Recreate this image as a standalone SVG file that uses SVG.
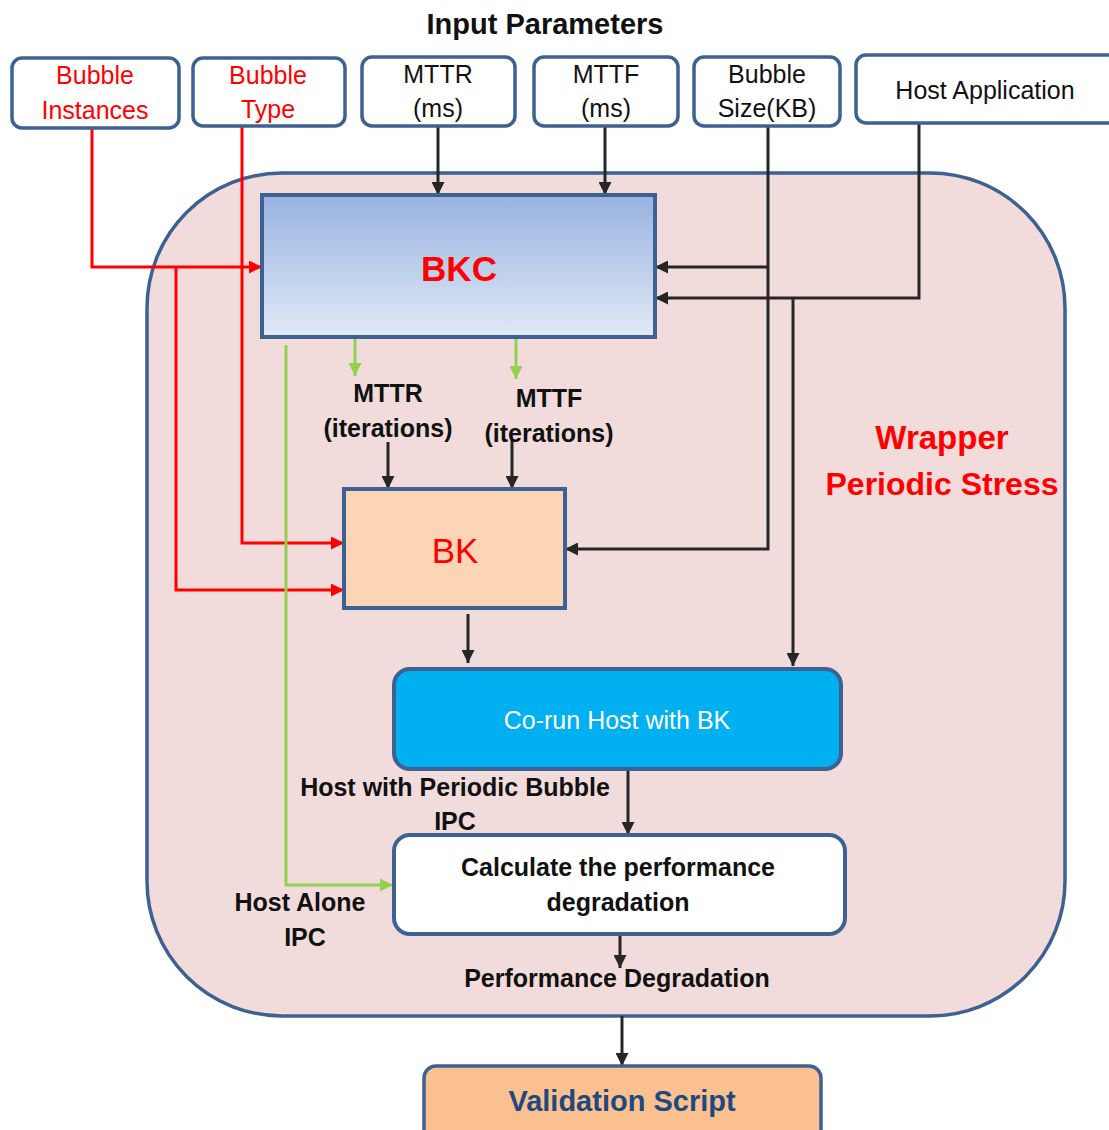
<svg xmlns="http://www.w3.org/2000/svg" width="1109" height="1130" viewBox="0 0 1109 1130">
<style>
  .box{fill:#ffffff;stroke:#3d6192;stroke-width:3.5}
  .in{font-family:"Liberation Sans",Arial,sans-serif;font-size:25px;text-anchor:middle}
  .lbl{font-family:"Liberation Sans",Arial,sans-serif;font-size:25px;font-weight:bold;text-anchor:middle;fill:#111}
  .k{stroke:#262626;stroke-width:3;fill:none}
  .r{stroke:#ff0000;stroke-width:3;fill:none}
  .g{stroke:#92d050;stroke-width:3;fill:none}
</style>
<defs>
  <linearGradient id="bkcg" x1="0" y1="0" x2="0" y2="1">
    <stop offset="0" stop-color="#98b3e0"/>
    <stop offset="1" stop-color="#e1e9f6"/>
  </linearGradient>
  <marker id="ak" markerUnits="userSpaceOnUse" markerWidth="13" markerHeight="13" refX="13" refY="6.5" orient="auto"><path d="M0,0 L13,6.5 L0,13 z" fill="#262626"/></marker>
  <marker id="ar" markerUnits="userSpaceOnUse" markerWidth="13" markerHeight="13" refX="13" refY="6.5" orient="auto"><path d="M0,0 L13,6.5 L0,13 z" fill="#ff0000"/></marker>
  <marker id="ag" markerUnits="userSpaceOnUse" markerWidth="13" markerHeight="13" refX="13" refY="6.5" orient="auto"><path d="M0,0 L13,6.5 L0,13 z" fill="#92d050"/></marker>
</defs>
<rect width="1109" height="1130" fill="#ffffff"/>

<text x="545" y="34" font-family="'Liberation Sans',Arial,sans-serif" font-size="29" font-weight="bold" text-anchor="middle" fill="#111">Input Parameters</text>

<g id="wrapper">
  <rect x="147" y="173" width="918" height="843" rx="135" ry="135" fill="#f2dcdb" stroke="#3d6192" stroke-width="3.5"/>
  <text x="942" y="449" font-family="'Liberation Sans',Arial,sans-serif" font-size="33" font-weight="bold" text-anchor="middle" fill="#ff0000">Wrapper</text>
  <text x="942" y="495" font-family="'Liberation Sans',Arial,sans-serif" font-size="32" font-weight="bold" text-anchor="middle" fill="#ff0000">Periodic Stress</text>
</g>

<g id="connectors">
  <polyline class="r" points="92,128 92,267 262,267" marker-end="url(#ar)"/>
  <polyline class="r" points="176,267 176,590 344,590" marker-end="url(#ar)"/>
  <polyline class="r" points="242,126 242,543 344,543" marker-end="url(#ar)"/>
  <line class="k" x1="438" y1="127" x2="438" y2="195" marker-end="url(#ak)"/>
  <line class="k" x1="605" y1="126" x2="605" y2="195" marker-end="url(#ak)"/>
  <polyline class="k" points="768,126 768,549 565,549" marker-end="url(#ak)"/>
  <line class="k" x1="768" y1="267" x2="655" y2="267" marker-end="url(#ak)"/>
  <polyline class="k" points="919,123 919,298 655,298" marker-end="url(#ak)"/>
  <line class="k" x1="793" y1="298" x2="793" y2="666" marker-end="url(#ak)"/>
  <line class="g" x1="355" y1="337" x2="355" y2="376" marker-end="url(#ag)"/>
  <line class="g" x1="516" y1="339" x2="516" y2="379" marker-end="url(#ag)"/>
  <polyline class="g" points="286,345 286,885 393,885" marker-end="url(#ag)"/>
  <line class="k" x1="388" y1="442" x2="388" y2="489" marker-end="url(#ak)"/>
  <line class="k" x1="512" y1="440" x2="512" y2="489" marker-end="url(#ak)"/>
  <line class="k" x1="468" y1="614" x2="468" y2="663" marker-end="url(#ak)"/>
  <line class="k" x1="628" y1="769" x2="628" y2="835" marker-end="url(#ak)"/>
  <line class="k" x1="620" y1="934" x2="620" y2="968" marker-end="url(#ak)"/>
  <line class="k" x1="622" y1="1016" x2="622" y2="1066" marker-end="url(#ak)"/>
</g>

<g id="n-bubble-instances">
  <rect class="box" x="12" y="58" width="167" height="70" rx="10"/>
  <text class="in" x="95" y="84" fill="#ff0000">Bubble</text>
  <text class="in" x="95" y="119" fill="#ff0000">Instances</text>
</g>
<g id="n-bubble-type">
  <rect class="box" x="193" y="58" width="152" height="68" rx="10"/>
  <text class="in" x="268" y="84" fill="#ff0000">Bubble</text>
  <text class="in" x="268" y="118" fill="#ff0000">Type</text>
</g>
<g id="n-mttr">
  <rect class="box" x="362" y="57" width="153" height="69" rx="10"/>
  <text class="in" x="438" y="83" fill="#111">MTTR</text>
  <text class="in" x="438" y="117" fill="#111">(ms)</text>
</g>
<g id="n-mttf">
  <rect class="box" x="534" y="57" width="144" height="69" rx="10"/>
  <text class="in" x="606" y="83" fill="#111">MTTF</text>
  <text class="in" x="606" y="117" fill="#111">(ms)</text>
</g>
<g id="n-bubble-size">
  <rect class="box" x="694" y="57" width="146" height="69" rx="10"/>
  <text class="in" x="767" y="83" fill="#111">Bubble</text>
  <text class="in" x="767" y="117" fill="#111">Size(KB)</text>
</g>
<g id="n-host-app">
  <rect class="box" x="856" y="55" width="262" height="68" rx="10"/>
  <text class="in" x="985" y="99" fill="#111">Host Application</text>
</g>

<g id="n-bkc">
  <rect x="262" y="195" width="393" height="142" fill="url(#bkcg)" stroke="#3d6192" stroke-width="4"/>
  <text x="459" y="281" font-family="'Liberation Sans',Arial,sans-serif" font-size="35" font-weight="bold" text-anchor="middle" fill="#ff0000">BKC</text>
</g>

<g id="n-labels-iter">
  <text class="lbl" x="388" y="402">MTTR</text>
  <text class="lbl" x="388" y="437">(iterations)</text>
  <text class="lbl" x="549" y="407">MTTF</text>
  <text class="lbl" x="549" y="442">(iterations)</text>
</g>

<g id="n-bk">
  <rect x="344" y="489" width="221" height="119" fill="#fbd5b5" stroke="#3d6192" stroke-width="4"/>
  <text x="455" y="563" font-family="'Liberation Sans',Arial,sans-serif" font-size="35" text-anchor="middle" fill="#ff0000">BK</text>
</g>

<g id="n-corun">
  <rect x="394" y="669" width="447" height="100" rx="16" fill="#00b0f0" stroke="#3d6192" stroke-width="4"/>
  <text x="617" y="729" font-family="'Liberation Sans',Arial,sans-serif" font-size="25" text-anchor="middle" fill="#ffffff">Co-run Host with BK</text>
</g>

<g id="n-ipc-labels">
  <text class="lbl" x="455" y="796">Host with Periodic Bubble</text>
  <text class="lbl" x="455" y="830">IPC</text>
  <text class="lbl" x="300" y="911">Host Alone</text>
  <text class="lbl" x="305" y="946">IPC</text>
</g>

<g id="n-calc">
  <rect x="394" y="835" width="451" height="99" rx="16" fill="#ffffff" stroke="#3d6192" stroke-width="4"/>
  <text class="lbl" x="618" y="876">Calculate the performance</text>
  <text class="lbl" x="618" y="911">degradation</text>
</g>

<g id="n-perf-label">
  <text class="lbl" x="617" y="987">Performance Degradation</text>
</g>

<g id="n-validation">
  <rect x="424" y="1066" width="397" height="80" rx="12" fill="#fac090" stroke="#3d6192" stroke-width="3.5"/>
  <text x="622" y="1111" font-family="'Liberation Sans',Arial,sans-serif" font-size="29" font-weight="bold" text-anchor="middle" fill="#1f497d">Validation Script</text>
</g>
</svg>
